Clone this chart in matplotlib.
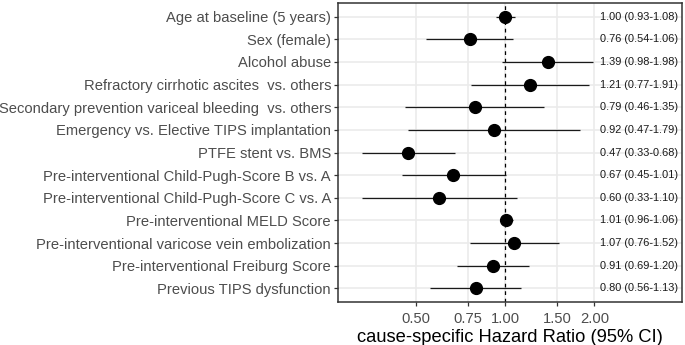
import matplotlib
matplotlib.use("Agg")
import matplotlib.pyplot as plt
from matplotlib.ticker import FixedLocator, NullLocator


LABELS = [
    "Age at baseline (5 years)",
    "Sex (female)",
    "Alcohol abuse",
    "Refractory cirrhotic ascites  vs. others",
    "Secondary prevention variceal bleeding  vs. others",
    "Emergency vs. Elective TIPS implantation",
    "PTFE stent vs. BMS",
    "Pre-interventional Child-Pugh-Score B vs. A",
    "Pre-interventional Child-Pugh-Score C vs. A",
    "Pre-interventional MELD Score",
    "Pre-interventional varicose vein embolization",
    "Pre-interventional Freiburg Score",
    "Previous TIPS dysfunction",
]
HR = [1.00, 0.76, 1.39, 1.21, 0.79, 0.92, 0.47, 0.67, 0.60, 1.01, 1.07, 0.91, 0.80]
LOWER = [0.93, 0.54, 0.98, 0.77, 0.46, 0.47, 0.33, 0.45, 0.33, 0.96, 0.76, 0.69, 0.56]
UPPER = [1.08, 1.06, 1.98, 1.91, 1.35, 1.79, 0.68, 1.01, 1.10, 1.06, 1.52, 1.20, 1.13]
X_TICKS = [0.50, 0.75, 1.00, 1.50, 2.00]

OUTPUT_FILE = "out.png"


def main():
    plt.rcParams.update({
        "font.family": ["Liberation Sans", "DejaVu Sans"],
    })

    fig = plt.figure(figsize=(6.85, 3.45), dpi=100)
    ax = fig.add_axes([0.4934, 0.1246, 0.5022, 0.8667])

    n = len(LABELS)
    ys = [n - 1 - i for i in range(n)]

    # ggplot-like grid
    for y in ys:
        ax.axhline(y, color="#EBEBEB", linewidth=1.2, zorder=0)
    for t in X_TICKS:
        ax.axvline(t, color="#EBEBEB", linewidth=1.2, zorder=0)

    ax.axvline(1.0, color="black", linewidth=0.9, linestyle=(0, (3, 3)), zorder=1)

    ax.hlines(ys, LOWER, UPPER, color="#1A1A1A", linewidth=0.9, zorder=2)
    ax.plot(HR, ys, "o", color="black", markersize=8.5, zorder=3)

    for y, h, lo, hi in zip(ys, HR, LOWER, UPPER):
        ax.text(2.09, y, f"{h:.2f} ({lo:.2f}-{hi:.2f})", fontsize=7.9,
                va="center", ha="left", color="#1A1A1A")

    ax.set_xscale("log")
    ax.set_xlim(0.274, 3.94)
    ax.set_ylim(-0.6, n - 0.4)
    ax.xaxis.set_major_locator(FixedLocator(X_TICKS))
    ax.xaxis.set_minor_locator(NullLocator())
    ax.set_xticklabels([f"{t:.2f}" for t in X_TICKS])
    ax.set_yticks(ys)
    ax.set_yticklabels(LABELS)

    ax.tick_params(axis="both", colors="#333333", labelcolor="#4D4D4D",
                   length=3, width=0.9, labelsize=10.65)
    ax.tick_params(axis="y", pad=2)
    ax.tick_params(axis="x", pad=4.5)

    ax.set_xlabel("cause-specific Hazard Ratio (95% CI)", fontsize=13.2,
                  color="black", labelpad=2)

    for spine in ax.spines.values():
        spine.set_color("#333333")
        spine.set_linewidth(1.1)

    fig.savefig(OUTPUT_FILE, dpi=100, facecolor="white")
    plt.close(fig)


if __name__ == "__main__":
    main()
